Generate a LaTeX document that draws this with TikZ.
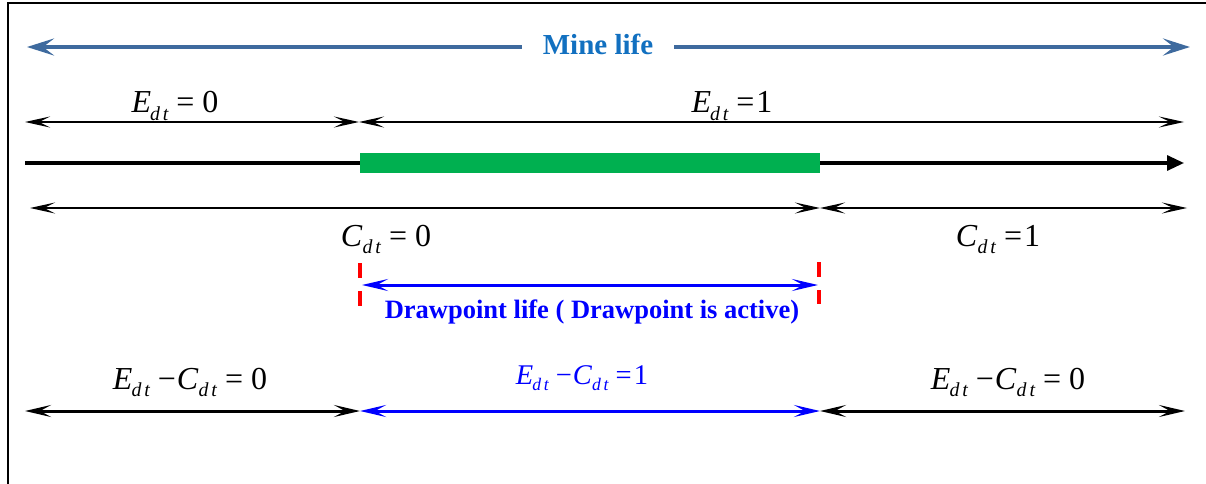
\documentclass[tikz,border=0pt]{standalone}
\usepackage{fontspec}
\setmainfont{Liberation Serif}
\usetikzlibrary{arrows.meta}
\definecolor{mineblue}{RGB}{62,106,158}
\definecolor{minetext}{RGB}{18,112,192}
\definecolor{dpgreen}{RGB}{0,176,80}
\newcommand{\sbx}[1]{\raisebox{-0.24em}{\fontsize{\the\dimexpr0.62\fontdimen6\font\relax}{0pt}\selectfont\itshape #1}}
\newcommand{\Edt}{\textit{E}\kern-1pt\sbx{d\kern0.15em t}}
\newcommand{\Cdt}{\textit{C}\sbx{d\kern0.15em t}}
\tikzset{
  dim/.style={line width=2pt,>={Stealth[length=25pt,width=11pt,inset=11pt]},<->},
  dimthick/.style={line width=3pt,>={Stealth[length=26pt,width=12pt,inset=11pt]},<->},
  minearrow/.style={line width=4pt,>={Stealth[length=27pt,width=17pt,inset=11pt]},<->},
  timearrow/.style={line width=3.2pt,>={Triangle[length=17pt,width=15pt]},->},
  lab/.style={anchor=base,inner sep=0pt,font=\fontsize{32}{34}\selectfont},
}
\begin{document}
\begin{tikzpicture}[x=1pt,y=-1pt]
\useasboundingbox (0,0) rectangle (1206,484);
% frame
\coordinate (f1) at (8,490);
\coordinate (f2) at (8,3);
\coordinate (f3) at (1215,3);
\draw[line width=2.5pt] (f1) -- (f2) -- (f3);
% mine life
\coordinate (m1) at (27,47);
\coordinate (m2) at (1190,47);
\draw[mineblue,minearrow] (m1) -- (m2);
\node[fill=white,inner xsep=21pt,inner ysep=4pt,text=minetext,font=\bfseries\fontsize{29}{30}\selectfont] (ml) at (598,44) {Mine life};
% E_dt arrows
\coordinate (e1) at (25,122);
\coordinate (e2) at (359,122);
\coordinate (e3) at (1184,122);
\draw[dim] (e1) -- (e2);
\draw[dim] (e2) -- (e3);
\node[lab] (le0) at (175,113) {\Edt\ = 0};
\node[lab] (le1) at (732,113) {\Edt\ =\kern2pt1};
% timeline
\coordinate (t1) at (25,163);
\coordinate (t2) at (1184,163);
\coordinate (g1) at (360,153);
\coordinate (g2) at (820,173);
\draw[timearrow] (t1) -- (t2);
\fill[dpgreen] (g1) rectangle (g2);
% C_dt arrows
\coordinate (c1) at (30,208);
\coordinate (c2) at (820,208);
\coordinate (c3) at (1187,208);
\draw[dim] (c1) -- (c2);
\draw[dim] (c2) -- (c3);
\node[lab] (lc0) at (386,246) {\Cdt\ = 0};
\node[lab] (lc1) at (998,246) {\Cdt\ =\kern2pt1};
% drawpoint life
\coordinate (r1a) at (360,263);
\coordinate (r1b) at (360,278);
\coordinate (r1c) at (360,291);
\coordinate (r1d) at (360,306);
\coordinate (r2a) at (819,262);
\coordinate (r2b) at (819,277);
\coordinate (r2c) at (819,290);
\coordinate (r2d) at (819,304);
\draw[red,line width=3.5pt] (r1a) -- (r1b) (r1c) -- (r1d) (r2a) -- (r2b) (r2c) -- (r2d);
\coordinate (d1) at (362,285);
\coordinate (d2) at (818,285);
\draw[blue,dimthick] (d1) -- (d2);
\node[anchor=base,inner sep=0pt,text=blue,font=\bfseries\fontsize{26.5}{27}\selectfont] (dl) at (592,318) {Drawpoint life ( Drawpoint is active)};
% bottom
\coordinate (b1) at (25,411);
\coordinate (b2) at (360,411);
\coordinate (b3) at (820,411);
\coordinate (b4) at (1185,411);
\draw[dimthick] (b1) -- (b2);
\draw[dimthick,blue] (b2) -- (b3);
\draw[dimthick] (b3) -- (b4);
\node[lab] (lb0) at (190,389) {\Edt\ −\kern1pt\Cdt\ = 0};
\node[lab,text=blue,font=\fontsize{28.5}{30}\selectfont] (lb1) at (582,384) {\Edt\ −\kern1pt\Cdt\ =\kern2pt1};
\node[lab] (lb2) at (1008,389) {\Edt\ −\kern1pt\Cdt\ = 0};
\end{tikzpicture}
\end{document}
